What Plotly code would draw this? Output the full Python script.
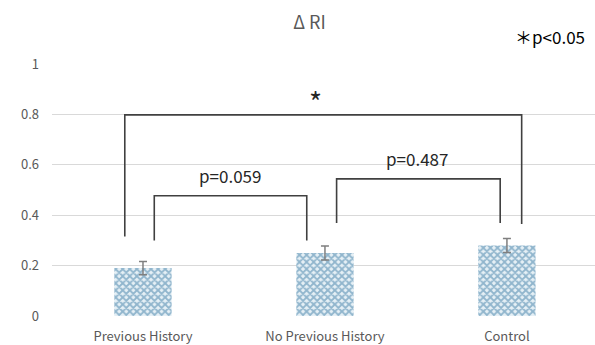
import plotly.graph_objects as go

categories = ["Previous History", "No Previous History", "Control"]
values = [0.19, 0.25, 0.28]
errors = [0.026, 0.028, 0.028]
y_ticks = [0, 0.2, 0.4, 0.6, 0.8, 1]
y_tick_labels = ["0", "0.2", "0.4", "0.6", "0.8", "1"]

# significance brackets
bracket_x = [[-0.10, -0.10, 2.081, 2.081], [0.062, 0.062, 0.90, 0.90], [1.064, 1.064, 1.963, 1.963]]
bracket_y = [[0.315, 0.798, 0.798, 0.365], [0.30, 0.477, 0.477, 0.30], [0.369, 0.544, 0.544, 0.369]]
bracket_labels = ["*", "p=0.059", "p=0.487"]
label_x = [0.95, 0.478, 1.505]
label_y = [0.765, 0.50, 0.567]

FONT = "Noto Sans CJK JP"

fig = go.Figure()
fig.add_trace(go.Bar(
    x=[0, 1, 2], y=values, width=0.315,
    marker=dict(color="#ffffff", line=dict(width=0),
                pattern=dict(shape="x", fgcolor="#3a7aa3", bgcolor="#e6f0f6", size=5, solidity=0.6)),
    error_y=dict(type="data", array=errors, color="#7f7f7f", thickness=1.5, width=4),
    showlegend=False, hoverinfo="skip",
))
for bx, by in zip(bracket_x, bracket_y):
    fig.add_trace(go.Scatter(x=bx, y=by, mode="lines", line=dict(color="#404040", width=1.6),
                             showlegend=False, hoverinfo="skip"))
for t, lx, ly in zip(bracket_labels, label_x, label_y):
    fig.add_annotation(x=lx, y=ly, text=t, showarrow=False, yanchor="bottom",
                       font=dict(family=FONT, size=28 if t == "*" else 17, color="#262626"))

fig.add_annotation(xref="paper", yref="paper", x=0.985, y=1.05, xanchor="right", yanchor="bottom",
                   text="＊p<0.05", showarrow=False, font=dict(family=FONT, size=17, color="#000000"))

fig.update_layout(
    width=595, height=345,
    margin=dict(l=52, r=0, t=64, b=29, autoexpand=False),
    paper_bgcolor="white", plot_bgcolor="white",
    title=dict(text="Δ RI", x=0.52, xanchor="center", y=0.935, yanchor="middle",
               font=dict(family=FONT, size=18, color="#595959")),
    font=dict(family=FONT, size=13, color="#595959"),
    xaxis=dict(range=[-0.5, 2.484], tickvals=[0, 1, 2], ticktext=categories, showgrid=False,
               zeroline=False, showline=False, ticks="", automargin=False, ticklabelstandoff=11,
               tickfont=dict(size=13, color="#595959")),
    yaxis=dict(range=[0, 1], tickvals=y_ticks, ticktext=y_tick_labels, showgrid=True,
               gridcolor="#d9d9d9", gridwidth=1, zeroline=False, showline=False, ticks="",
               automargin=False, ticklabelstandoff=12, tickfont=dict(size=13, color="#595959")),
)
fig.write_html("out.html", config={"displayModeBar": False},
               post_script="document.body.style.margin='0';document.body.style.overflow='hidden';")
